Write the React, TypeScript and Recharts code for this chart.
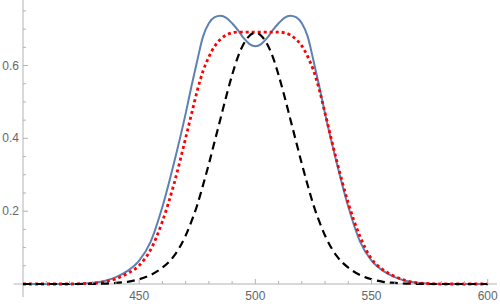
import React from 'react';
import { LineChart, Line, XAxis, YAxis, ReferenceLine } from 'recharts';

// wavelength samples (finer spacing across the peak region)
const xs = [
  400, 405, 410, 415, 420, 425, 430, 435, 440, 445, 450, 455, 460, 465, 470,
  472.5, 475, 477.5, 480, 482.5, 485, 487.5, 490, 492.5, 495, 497.5, 500,
  502.5, 505, 507.5, 510, 512.5, 515, 517.5, 520, 522.5, 525, 527.5,
  530, 535, 540, 545, 550, 555, 560, 565, 570, 575, 580, 585, 590, 595, 600,
];

// solid blue, double peaked
const blueCurve = [
  0, 0, 0, 0, 0, 0.001, 0.003, 0.008, 0.019, 0.036, 0.064, 0.117, 0.212, 0.333, 0.468,
  0.543, 0.614, 0.68, 0.716, 0.733, 0.737, 0.731, 0.716, 0.697, 0.675, 0.659, 0.653,
  0.659, 0.675, 0.697, 0.716, 0.731, 0.737, 0.733, 0.716, 0.68, 0.614, 0.543,
  0.468, 0.333, 0.212, 0.117, 0.064, 0.036, 0.019, 0.008, 0.003, 0.001, 0, 0, 0, 0, 0,
];

// red dotted, flat top
const redCurve = [
  0, 0, 0, 0, 0, 0.001, 0.002, 0.006, 0.014, 0.029, 0.051, 0.095, 0.172, 0.275, 0.401,
  0.466, 0.531, 0.585, 0.624, 0.653, 0.672, 0.684, 0.69, 0.692, 0.692, 0.692, 0.692,
  0.692, 0.692, 0.692, 0.692, 0.69, 0.684, 0.672, 0.654, 0.625, 0.587, 0.534,
  0.469, 0.339, 0.222, 0.131, 0.069, 0.039, 0.021, 0.009, 0.003, 0.001, 0, 0, 0, 0, 0,
];

// black dashed, single peak
const blackCurve = [
  0, 0, 0, 0, 0, 0, 0.0005, 0.001, 0.003, 0.006, 0.013, 0.025, 0.045, 0.077, 0.133,
  0.172, 0.217, 0.272, 0.33, 0.392, 0.454, 0.516, 0.574, 0.624, 0.66, 0.682, 0.69,
  0.682, 0.66, 0.624, 0.574, 0.516, 0.454, 0.392, 0.33, 0.272, 0.217, 0.172,
  0.133, 0.077, 0.045, 0.025, 0.013, 0.006, 0.003, 0.001, 0.0005, 0, 0, 0, 0, 0, 0,
];

const xMajor = [450, 500, 550, 600];
const xMinor = [410, 420, 430, 440, 460, 470, 480, 490, 510, 520, 530, 540, 560, 570, 580, 590];
const yMajor = [0.2, 0.4, 0.6];
const yMinor = [0.05, 0.1, 0.15, 0.25, 0.3, 0.35, 0.45, 0.5, 0.55, 0.65, 0.7, 0.75];

const data = xs.map((x, i) => ({
  x,
  blue: blueCurve[i],
  red: redCurve[i],
  black: blackCurve[i],
}));

const AXIS = '#b3b3b3';
const LABEL = '#666666';
const FONT = '"Liberation Sans", Arial, sans-serif';

// ticks point into the plot, like Mathematica
const XTick = (props: any) => {
  const { x, y, payload } = props;
  const major = xMajor.includes(payload.value);
  return (
    <g>
      <line x1={x} y1={y} x2={x} y2={y - (major ? 5 : 3)} stroke={AXIS} />
      {major && (
        <text x={x} y={y + 16} textAnchor="middle" fill={LABEL} fontSize={12} fontFamily={FONT}>
          {payload.value}
        </text>
      )}
    </g>
  );
};

const YTick = (props: any) => {
  const { x, y, payload } = props;
  const major = yMajor.includes(payload.value);
  return (
    <g>
      <line x1={x} y1={y} x2={x + (major ? 5 : 3)} y2={y} stroke={AXIS} />
      {major && (
        <text x={x - 4} y={y + 4} textAnchor="end" fill={LABEL} fontSize={12} fontFamily={FONT}>
          {payload.value}
        </text>
      )}
    </g>
  );
};

export default function App() {
  return (
    <div style={{ position: 'absolute', left: 0, top: 0, background: '#fff' }}>
      <LineChart width={500} height={307} data={data} margin={{ top: 0, right: 3, bottom: 0, left: 0 }}>
        <XAxis
          dataKey="x"
          type="number"
          domain={[400, 604]}
          ticks={[...xMinor, ...xMajor]}
          interval={0}
          height={23}
          axisLine={false}
          tickLine={false}
          tickSize={0}
          tickMargin={0}
          tick={<XTick />}
        />
        <YAxis
          type="number"
          domain={[0, 0.78]}
          ticks={[...yMinor, ...yMajor]}
          interval={0}
          width={23}
          axisLine={false}
          tickLine={false}
          tickSize={0}
          tickMargin={0}
          tick={<YTick />}
        />
        <ReferenceLine segment={[{ x: 396, y: 0 }, { x: 604, y: 0 }]} stroke={AXIS} ifOverflow="visible" />
        <ReferenceLine segment={[{ x: 400, y: -0.036 }, { x: 400, y: 0.78 }]} stroke={AXIS} ifOverflow="visible" />
        <Line
          type="monotone"
          dataKey="blue"
          stroke="#5e81b5"
          strokeWidth={2}
          dot={false}
          isAnimationActive={false}
        />
        <Line
          type="monotone"
          dataKey="red"
          stroke="#ff0000"
          strokeWidth={2.8}
          strokeDasharray="3 3"
          dot={false}
          isAnimationActive={false}
        />
        <Line
          type="monotone"
          dataKey="black"
          stroke="#000000"
          strokeWidth={2.2}
          strokeDasharray="8 5"
          dot={false}
          isAnimationActive={false}
        />
      </LineChart>
    </div>
  );
}
